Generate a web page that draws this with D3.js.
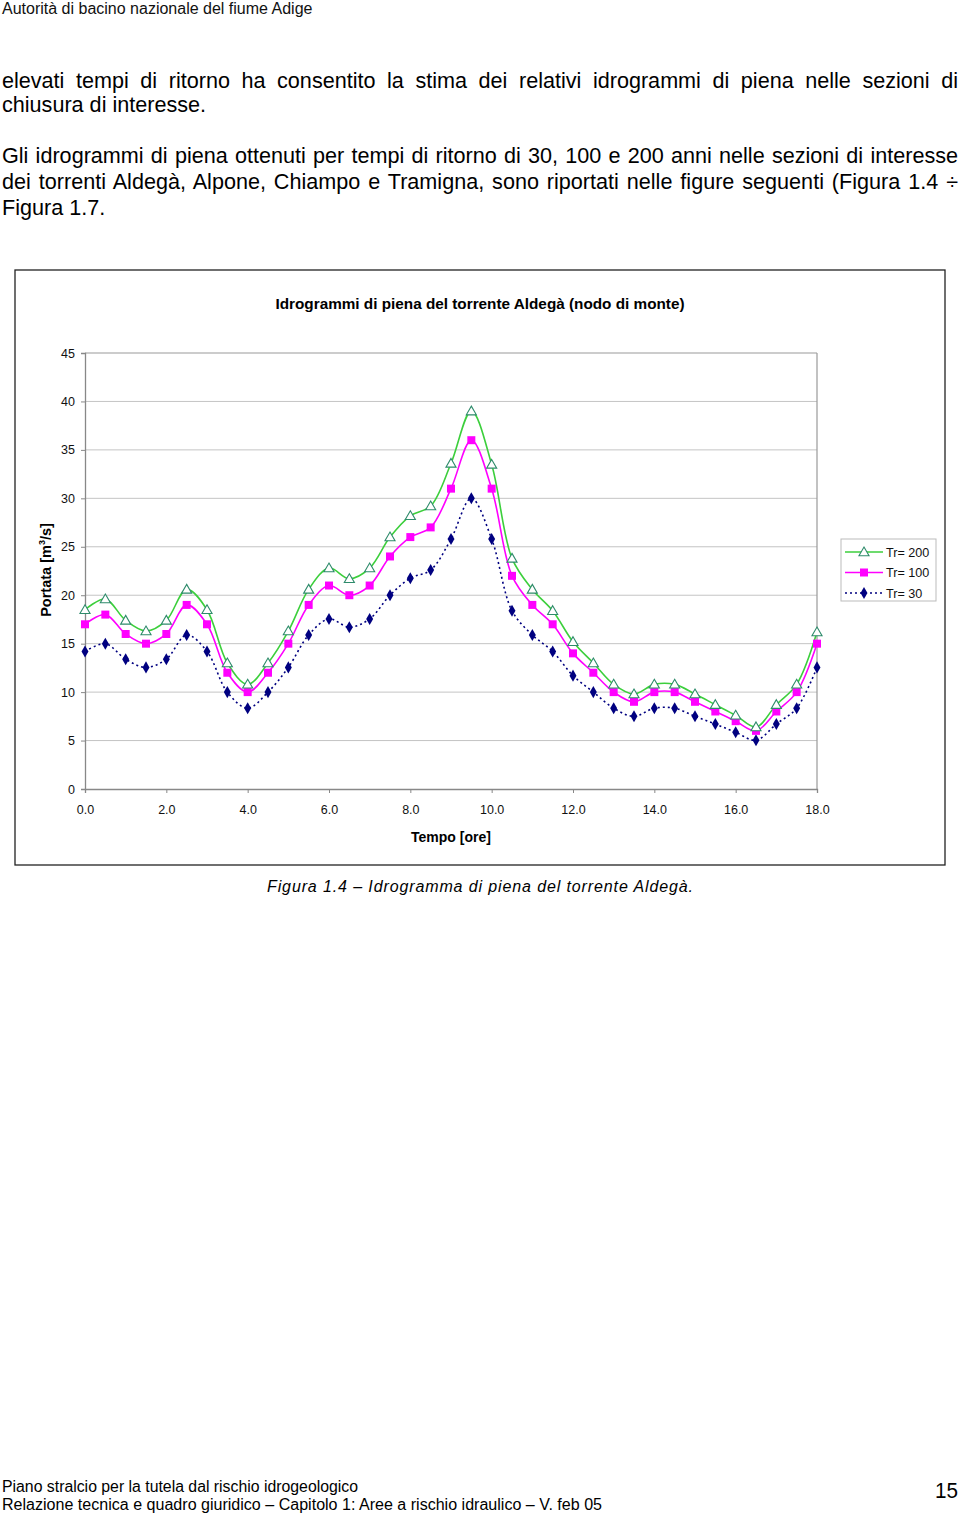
<!DOCTYPE html>
<html><head><meta charset="utf-8">
<script src="https://cdn.jsdelivr.net/npm/d3@7"></script>
<style>body{margin:0;background:#fff}svg{display:block}text{font-family:"Liberation Sans",Arial,sans-serif}</style>
</head><body>
<script>
const hours = [0,0.5,1,1.5,2,2.5,3,3.5,4,4.5,5,5.5,6,6.5,7,7.5,8,8.5,9,9.5,10,10.5,11,11.5,12,12.5,13,13.5,14,14.5,15,15.5,16,16.5,17,17.5,18];
const tr200 = [18.5,19.6,17.4,16.3,17.4,20.6,18.5,13.0,10.8,13.0,16.3,20.6,22.8,21.7,22.8,26.0,28.2,29.2,33.6,39.0,33.5,23.8,20.6,18.4,15.2,13.0,10.8,9.8,10.8,10.8,9.8,8.7,7.6,6.4,8.7,10.8,16.2];
const tr100 = [17,18,16,15,16,19,17,12,10,12,15,19,21,20,21,24,26,27,31,36,31,22,19,17,14,12,10,9,10,10,9,8,7,6,8,10,15];
const tr30  = [14.2,15.0,13.4,12.55,13.4,15.9,14.2,10.0,8.34,10.0,12.55,15.9,17.55,16.7,17.55,20.0,21.76,22.6,25.8,30.0,25.8,18.4,15.9,14.2,11.7,10.0,8.34,7.5,8.34,8.34,7.5,6.7,5.86,5.03,6.7,8.34,12.55];
const xTicks = [0,2,4,6,8,10,12,14,16,18];
const yTicks = [0,5,10,15,20,25,30,35,40,45];
const seriesNames = ["Tr= 200","Tr= 100","Tr= 30"];
const chartTitle = "Idrogrammi di piena del torrente Aldegà (nodo di monte)";

const svg = d3.select("body").append("svg").attr("width",960).attr("height",1516);
svg.append("rect").attr("width",960).attr("height",1516).attr("fill","#fff");

// page text
svg.append("text").attr("x",2).attr("y",13.5).attr("font-size",16).attr("fill","#111").text("Autorità di bacino nazionale del fiume Adige");
const body = [
  {t:"elevati tempi di ritorno ha consentito la stima dei relativi idrogrammi di piena nelle sezioni di", y:88, j:true},
  {t:"chiusura di interesse.", y:112, j:false},
  {t:"Gli idrogrammi di piena ottenuti per tempi di ritorno di 30, 100 e 200 anni nelle sezioni di interesse", y:163, j:true},
  {t:"dei torrenti Aldegà, Alpone, Chiampo e Tramigna, sono riportati nelle figure seguenti (Figura 1.4 ÷", y:189, j:true},
  {t:"Figura 1.7.", y:215, j:false}
];
body.forEach(b=>{
  const t = svg.append("text").attr("x",2).attr("y",b.y).attr("font-size",21.6).attr("fill","#000").text(b.t);
  if (b.j) {
    const w = t.node().getComputedTextLength();
    const n = (b.t.match(/ /g)||[]).length;
    const extra = (956 - w)/n;
    if (extra > 0) t.attr("word-spacing", extra);
    else t.attr("textLength",956).attr("lengthAdjust","spacingAndGlyphs");
  }
});

// chart frame
svg.append("rect").attr("x",15).attr("y",270).attr("width",930).attr("height",595).attr("fill","#fff").attr("stroke","#222").attr("stroke-width",1.3);
svg.append("text").attr("x",480).attr("y",309).attr("text-anchor","middle").attr("font-size",15.3).attr("font-weight","bold").text(chartTitle);

const x = d3.scaleLinear().domain([0,18]).range([85,817]);
const y = d3.scaleLinear().domain([0,45]).range([789,353]);

// gridlines
svg.append("g").selectAll("line").data(yTicks.filter(v=>v>0&&v<45)).join("line")
  .attr("x1",x(0)).attr("x2",x(18)).attr("y1",d=>y(d)).attr("y2",d=>y(d)).attr("stroke","#c4c4c4").attr("stroke-width",1);
// plot border top/right
svg.append("line").attr("x1",x(0)).attr("x2",x(18)).attr("y1",y(45)).attr("y2",y(45)).attr("stroke","#999").attr("stroke-width",1.2);
svg.append("line").attr("x1",x(18)).attr("x2",x(18)).attr("y1",y(45)).attr("y2",y(0)).attr("stroke","#999").attr("stroke-width",1.2);

// axes
const gx = svg.append("g").attr("transform",`translate(0,${y(0)})`)
  .call(d3.axisBottom(x).tickValues(xTicks).tickFormat(d3.format(".1f")).tickSize(4).tickPadding(12));
const gy = svg.append("g").attr("transform",`translate(${x(0)},0)`)
  .call(d3.axisLeft(y).tickValues(yTicks).tickSize(4).tickPadding(6));
[gx,gy].forEach(g=>{
  g.select(".domain").attr("stroke","#888").attr("stroke-width",1.3);
  g.selectAll(".tick line").attr("stroke","#888");
  g.selectAll(".tick text").attr("font-size",12.5).attr("fill","#111").attr("font-family","Liberation Sans, Arial, sans-serif");
});

// axis titles
svg.append("text").attr("x",451).attr("y",842).attr("text-anchor","middle").attr("font-size",14).attr("font-weight","bold").text("Tempo [ore]");
const yt = svg.append("text").attr("transform","translate(51,570) rotate(-90)").attr("text-anchor","middle").attr("font-size",14.5).attr("font-weight","bold");
yt.append("tspan").text("Portata [m");
yt.append("tspan").attr("font-size",9).attr("dy",-6).text("3");
yt.append("tspan").attr("dy",6).text("/s]");

const curve = d3.curveCatmullRom.alpha(0.5);
const line = d3.line().x((d,i)=>x(hours[i])).y(d=>y(d)).curve(curve);

const series = [
  {name:seriesNames[0], v:tr200, color:"#3ccf3c", dash:null, marker:"tri"},
  {name:seriesNames[1], v:tr100, color:"#ff00ff", dash:null, marker:"sq"},
  {name:seriesNames[2], v:tr30,  color:"#000080", dash:"2,3", marker:"dia"}
];
const sym = {
  tri: d3.symbol().type(d3.symbolTriangle).size(44),
  sq: d3.symbol().type(d3.symbolSquare).size(64),
  dia: d3.symbol().type(d3.symbolDiamond).size(42)
};
function drawMarker(g, s, cx, cy){
  const p = g.append("path").attr("d",sym[s.marker]()).attr("transform",`translate(${cx},${cy})`);
  if (s.marker==="tri") p.attr("fill","#fff").attr("stroke","#2e8b6b").attr("stroke-width",1.1).attr("transform",`translate(${cx},${cy+0.8})`);
  else p.attr("fill",s.color);
}
[...series].reverse().forEach(s=>{
  svg.append("path").datum(s.v).attr("d",line).attr("fill","none").attr("stroke",s.color)
    .attr("stroke-width",1.6).attr("stroke-dasharray",s.dash);
});
[...series].reverse().forEach(s=>{
  const g = svg.append("g");
  s.v.forEach((d,i)=>drawMarker(g,s,x(hours[i]),y(d)));
});

// legend
svg.append("rect").attr("x",841).attr("y",539).attr("width",95).attr("height",62).attr("fill","#fff").attr("stroke","#bbb").attr("stroke-width",1);
series.forEach((s,i)=>{
  const ly = 552 + i*20.5;
  svg.append("line").attr("x1",845).attr("x2",883).attr("y1",ly).attr("y2",ly).attr("stroke",s.color).attr("stroke-width",1.6).attr("stroke-dasharray",s.dash);
  drawMarker(svg.append("g"),s,864,ly);
  svg.append("text").attr("x",886).attr("y",ly+4.5).attr("font-size",12.6).attr("fill","#111").text(s.name);
});

// caption
svg.append("text").attr("x",267).attr("y",892).attr("font-size",16).attr("font-style","italic").attr("textLength",426).attr("lengthAdjust","spacing").text("Figura 1.4 – Idrogramma di piena del torrente Aldegà.");

// footer
svg.append("text").attr("x",2).attr("y",1492).attr("font-size",16).attr("textLength",356).attr("lengthAdjust","spacingAndGlyphs").text("Piano stralcio per la tutela dal rischio idrogeologico");
svg.append("text").attr("x",2).attr("y",1510).attr("font-size",16).attr("textLength",600).attr("lengthAdjust","spacingAndGlyphs").text("Relazione tecnica e quadro giuridico – Capitolo 1: Aree a rischio idraulico  – V. feb 05");
svg.append("text").attr("x",958).attr("y",1498).attr("text-anchor","end").attr("font-size",22).attr("textLength",23).attr("lengthAdjust","spacingAndGlyphs").text("15");
</script>
</body></html>
